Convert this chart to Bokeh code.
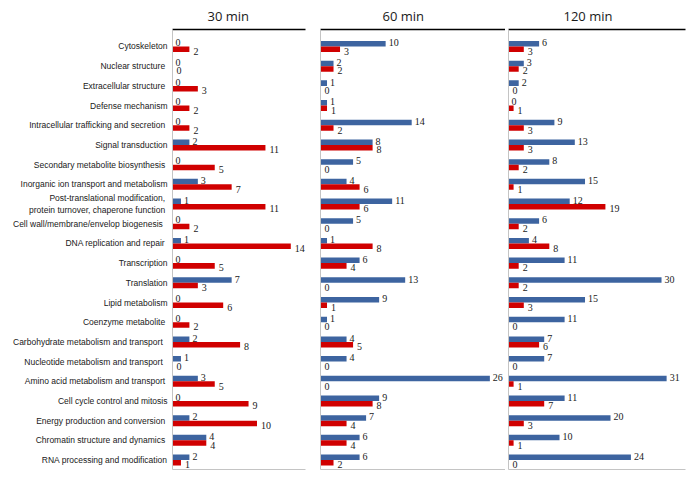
from bokeh.plotting import figure
from bokeh.layouts import row
from bokeh.models import (ColumnDataSource, Range1d, FixedTicker, LinearAxis, LabelSet)
from bokeh.transform import dodge
from bokeh.embed import file_html
from bokeh.resources import INLINE

categories = [
    "Cytoskeleton",
    "Nuclear  structure",
    "Extracellular  structure",
    "Defense mechanism",
    "Intracellular  trafficking and secretion",
    "Signal transduction",
    "Secondary metabolite  biosynthesis",
    "Inorganic ion transport and metabolism",
    "Post-translational  modification,\nprotein turnover,  chaperone function",
    "Cell wall/membrane/envelop   biogenesis",
    "DNA replication  and repair",
    "Transcription",
    "Translation",
    "Lipid metabolism",
    "Coenzyme  metabolite",
    "Carbohydrate  metabolism  and transport",
    "Nucleotide  metabolism  and transport",
    "Amino acid metabolism  and transport",
    "Cell cycle control and mitosis",
    "Energy  production and conversion",
    "Chromatin structure  and dynamics",
    "RNA processing and modification",
]

panels = ["30 min", "60 min", "120 min"]

blue_30 = [0, 0, 0, 0, 0, 2, 0, 3, 1, 0, 1, 0, 7, 0, 0, 2, 1, 3, 0, 2, 4, 2]
red_30 = [2, 0, 3, 2, 2, 11, 5, 7, 11, 2, 14, 5, 3, 6, 2, 8, 0, 5, 9, 10, 4, 1]
blue_60 = [10, 2, 1, 1, 14, 8, 5, 4, 11, 5, 1, 6, 13, 9, 1, 4, 4, 26, 9, 7, 6, 6]
red_60 = [3, 2, 0, 1, 2, 8, 0, 6, 6, 0, 8, 4, 0, 1, 0, 5, 0, 0, 8, 4, 4, 2]
blue_120 = [6, 3, 2, 0, 9, 13, 8, 15, 12, 6, 4, 11, 30, 15, 11, 7, 7, 31, 11, 20, 10, 24]
red_120 = [3, 2, 0, 1, 3, 3, 2, 1, 19, 2, 8, 2, 2, 3, 0, 6, 0, 1, 7, 3, 1, 0]

BLUE = "#3d64a0"
RED = "#d00000"
AXIS_GRAY = "#c4c4c4"

idx = list(range(len(categories)))

specs = [
    # (blue, red, width, border_left, border_right, xmax, title_offset, show_labels)
    (blue_30, red_30, 312, 172, 7, 15.74, 35, True),
    (blue_60, red_60, 193, 8, 0, 28.4, 62, False),
    (blue_120, red_120, 182, 3, 2, 34.7, 55, False),
]

figs = []
for title, (blue, red, w, bl, br, xmax, toff, show) in zip(panels, specs):
    src = ColumnDataSource(dict(
        idx=idx, blue=blue, red=red,
        blue_txt=[str(v) for v in blue], red_txt=[str(v) for v in red],
    ))
    p = figure(width=w, height=472, output_backend="svg", toolbar_location=None,
               x_range=Range1d(0, xmax), y_range=Range1d(21.48, -0.863),
               min_border_left=bl, min_border_right=br,
               min_border_top=29, min_border_bottom=3)
    p.outline_line_color = None
    p.xgrid.visible = False
    p.ygrid.visible = False
    p.background_fill_color = "white"
    p.border_fill_color = "white"

    p.hbar(y=dodge("idx", -0.14), left=0, right="blue", height=0.28,
           source=src, fill_color=BLUE, line_color=None)
    p.hbar(y=dodge("idx", 0.14), left=0, right="red", height=0.28,
           source=src, fill_color=RED, line_color=None)

    lb = LabelSet(x="blue", y=dodge("idx", -0.14), text="blue_txt", source=src,
                  x_offset=3, y_offset=1, text_font="Open Sans",
                  text_font_size="10px", text_baseline="middle", text_color="#1a1a1a")
    lr = LabelSet(x="red", y=dodge("idx", 0.14), text="red_txt", source=src,
                  x_offset=4, y_offset=-2, text_font="Open Sans",
                  text_font_size="10px", text_baseline="middle", text_color="#1a1a1a")
    p.add_layout(lb)
    p.add_layout(lr)

    # bottom axis: plain grey line
    xa = p.xaxis[0]
    xa.ticker = FixedTicker(ticks=[])
    xa.axis_line_color = AXIS_GRAY
    xa.major_tick_line_color = None
    xa.minor_tick_line_color = None
    xa.major_label_text_font_size = "0px"

    # left axis: grey line with category labels on first panel
    ya = p.yaxis[0]
    ya.axis_line_color = AXIS_GRAY
    ya.major_tick_line_color = None
    ya.minor_tick_line_color = None
    ya.major_tick_out = 0
    ya.major_tick_in = 0
    if show:
        ya.ticker = FixedTicker(ticks=idx)
        ya.major_label_overrides = {i: c for i, c in zip(idx, categories)}
        ya.major_label_text_font = "Liberation Sans"
        ya.major_label_text_font_size = "8.5px"
        ya.major_label_text_color = "#202020"
        ya.major_label_standoff = 5
    else:
        ya.ticker = FixedTicker(ticks=[])
        ya.major_label_text_font_size = "0px"

    # top line under the panel title
    top = LinearAxis(ticker=FixedTicker(ticks=[]), axis_line_color="black",
                     axis_line_width=1.3, major_tick_line_color=None,
                     minor_tick_line_color=None, major_label_text_font_size="0px")
    p.add_layout(top, "above")

    p.title.text = title
    p.title.align = "left"
    p.title.offset = toff
    p.title.text_font = "Open Sans"
    p.title.text_font_size = "13px"
    p.title.text_font_style = "normal"
    p.title.text_color = "#1a1a1a"
    p.title.standoff = 9
    figs.append(p)

layout = row(*figs, spacing=0)
open("out.html", "w").write(file_html(layout, INLINE))
